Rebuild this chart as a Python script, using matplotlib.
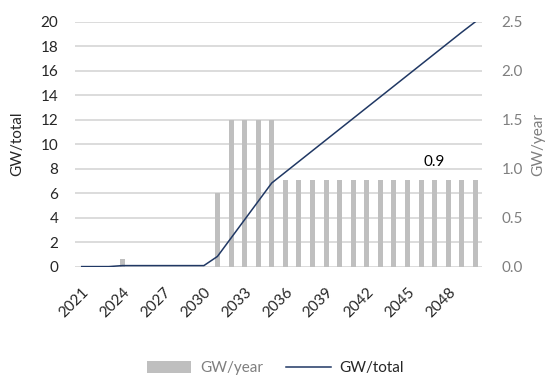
import matplotlib.pyplot as plt
import numpy as np

plt.rcParams['font.family'] = ['Lato', 'DejaVu Sans']

years = list(range(2021, 2051))
# GW added per year (right axis)
gw_year = [0, 0, 0, 0.08, 0, 0, 0, 0, 0, 0,
           0.75, 1.5, 1.5, 1.5, 1.5,
           0.88, 0.88, 0.88, 0.88, 0.88, 0.88, 0.88, 0.88,
           0.88, 0.88, 0.88, 0.88, 0.88, 0.88, 0.88]
# total installed GW (left axis)
gw_total = [0, 0, 0, 0.08, 0.08, 0.08, 0.08, 0.08, 0.08, 0.08,
            0.83, 2.33, 3.83, 5.33, 6.83,
            7.71, 8.59, 9.47, 10.35, 11.23, 12.11, 12.99, 13.87,
            14.75, 15.63, 16.51, 17.39, 18.27, 19.15, 20.0]
label_year = 2047

bar_col = '#BFBFBF'
line_col = '#203864'
grid_col = '#D9D9D9'
grey_txt = '#7F7F7F'
dark_txt = '#262626'

fig = plt.figure(figsize=(5.51, 3.76), dpi=100)
ax = fig.add_axes([0.136, 0.291, 0.739, 0.651])
ax2 = ax.twinx()

x = np.arange(len(years))

# bars on the secondary axis, line on primary; keep line on top
ax.set_zorder(ax2.get_zorder() + 1)
ax.patch.set_visible(False)

bars = ax2.bar(x, gw_year, width=0.37, color=bar_col, label='GW/year', zorder=2)
line, = ax.plot(x, gw_total, color=line_col, lw=1.1, label='GW/total')

ax.set_ylim(0, 20)
ax.set_yticks(np.arange(0, 21, 2))
ax2.set_ylim(0, 2.5)
ax2.set_yticks(np.arange(0, 2.51, 0.5))
ax2.set_yticklabels([f'{v:.1f}' for v in np.arange(0, 2.51, 0.5)])
ax.set_xlim(-0.5, len(years) - 0.5)

# gridlines drawn on the bar axis so they sit behind the bars
for v in np.arange(0, 21, 2):
    ax2.axhline(v / 8.0, color=grid_col, lw=1.3, zorder=1)

for a in (ax, ax2):
    for s in a.spines.values():
        s.set_visible(False)

ax.tick_params(axis='y', length=0, labelsize=11, labelcolor=dark_txt, pad=12)
ax2.tick_params(axis='y', length=0, labelsize=11, labelcolor=grey_txt, pad=14)

tick_idx = x[::3]
ax.set_xticks(tick_idx)
ax.set_xticklabels([str(years[i]) for i in tick_idx], rotation=45, ha='right',
                   rotation_mode='anchor', fontsize=11, color=dark_txt)
ax.tick_params(axis='x', length=0, pad=13)

ax.set_ylabel('GW/total', fontsize=11, color=dark_txt, labelpad=12)
ax2.set_ylabel('GW/year', fontsize=11, color=grey_txt, labelpad=6)

i = years.index(label_year)
ax2.annotate(f'{gw_year[i]:.1f}', (x[i], gw_year[i]), xytext=(0, 8),
             textcoords='offset points', ha='center', va='bottom',
             fontsize=11, color='black')

leg = fig.legend(handles=[bars, line], loc='lower center', ncol=2,
                 bbox_to_anchor=(0.5, -0.035), frameon=False, fontsize=11,
                 handlelength=2.9, handleheight=0.9, handletextpad=0.6,
                 columnspacing=1.5)
leg.get_texts()[0].set_color(grey_txt)
leg.get_texts()[1].set_color(dark_txt)

fig.savefig('out.png', dpi=100)
